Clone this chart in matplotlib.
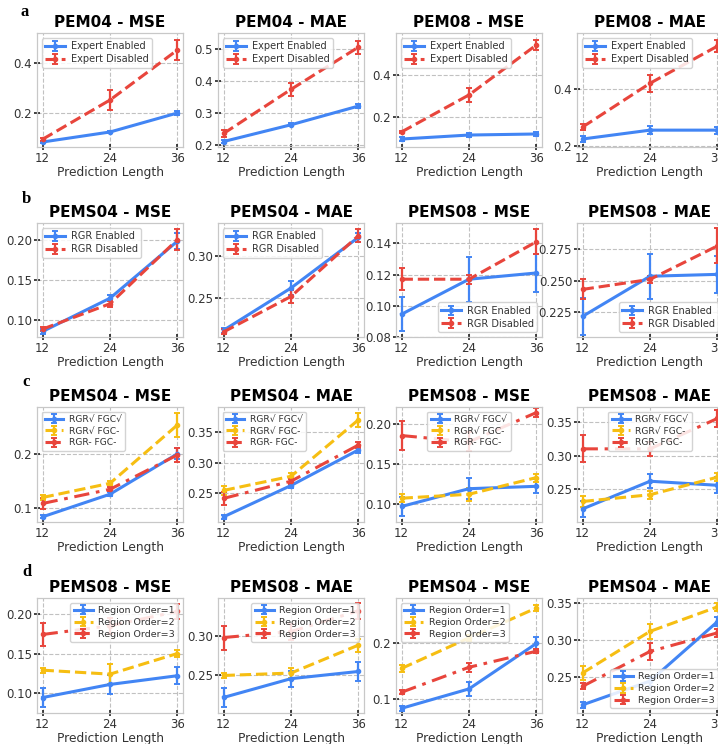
import matplotlib
matplotlib.use("Agg")
import matplotlib.pyplot as plt

# ---------------- data ----------------
pred_len = [12, 24, 36]

# Row a
a_titles = ['PEM04 - MSE', 'PEM04 - MAE', 'PEM08 - MSE', 'PEM08 - MAE']
a_labels = ['Expert Enabled', 'Expert Disabled']
a_enabled = [[0.084, 0.124, 0.200], [0.212, 0.264, 0.322], [0.095, 0.114, 0.119], [0.225, 0.256, 0.256]]
a_enabled_err = [[0.004, 0.004, 0.008], [0.004, 0.004, 0.005], [0.008, 0.010, 0.008], [0.010, 0.015, 0.012]]
a_disabled = [[0.095, 0.252, 0.452], [0.237, 0.374, 0.505], [0.129, 0.305, 0.543], [0.267, 0.420, 0.550]]
a_disabled_err = [[0.005, 0.040, 0.040], [0.010, 0.020, 0.020], [0.005, 0.035, 0.025], [0.010, 0.030, 0.020]]
a_yticks = [[0.2, 0.4], [0.2, 0.3, 0.4, 0.5], [0.2, 0.4], [0.2, 0.4]]
a_yticklabels = [['0.2', '0.4'], ['0.2', '0.3', '0.4', '0.5'], ['0.2', '0.4'], ['0.2', '0.4']]

# Row b
b_titles = ['PEMS04 - MSE', 'PEMS04 - MAE', 'PEMS08 - MSE', 'PEMS08 - MAE']
b_labels = ['RGR Enabled', 'RGR Disabled']
b_enabled = [[0.085, 0.127, 0.199], [0.212, 0.262, 0.322], [0.0946, 0.117, 0.121], [0.2215, 0.2535, 0.255]]
b_enabled_err = [[0.003, 0.004, 0.010], [0.003, 0.008, 0.005], [0.011, 0.0145, 0.012], [0.0147, 0.018, 0.015]]
b_disabled = [[0.088, 0.120, 0.201], [0.210, 0.252, 0.324], [0.117, 0.117, 0.141], [0.243, 0.251, 0.2777]]
b_disabled_err = [[0.003, 0.004, 0.013], [0.003, 0.008, 0.008], [0.007, 0.003, 0.008], [0.008, 0.003, 0.014]]
b_yticks = [[0.10, 0.15, 0.20], [0.25, 0.30], [0.08, 0.10, 0.12, 0.14], [0.225, 0.250, 0.275]]
b_yticklabels = [['0.10', '0.15', '0.20'], ['0.25', '0.30'], ['0.08', '0.10', '0.12', '0.14'],
                 ['0.225', '0.250', '0.275']]

# Row c
c_titles = ['PEMS04 - MSE', 'PEMS04 - MAE', 'PEMS08 - MSE', 'PEMS08 - MAE']
c_labels = ['RGR√ FGC√', 'RGR√ FGC-', 'RGR- FGC-']
c_full = [[0.0845, 0.126, 0.200], [0.212, 0.263, 0.321], [0.0966, 0.119, 0.122], [0.221, 0.262, 0.256]]
c_full_err = [[0.003, 0.004, 0.010], [0.003, 0.004, 0.005], [0.012, 0.013, 0.009], [0.012, 0.010, 0.012]]
c_nofgc = [[0.120, 0.146, 0.253], [0.255, 0.278, 0.370], [0.107, 0.112, 0.133], [0.232, 0.242, 0.268]]
c_nofgc_err = [[0.005, 0.004, 0.022], [0.008, 0.005, 0.012], [0.005, 0.008, 0.005], [0.008, 0.006, 0.006]]
c_none = [[0.109, 0.135, 0.198], [0.242, 0.270, 0.329], [0.186, 0.178, 0.215], [0.310, 0.310, 0.355]]
c_none_err = [[0.010, 0.004, 0.012], [0.010, 0.004, 0.005], [0.018, 0.012, 0.006], [0.020, 0.010, 0.012]]
c_yticks = [[0.1, 0.2], [0.25, 0.30, 0.35], [0.10, 0.15, 0.20], [0.25, 0.30, 0.35]]
c_yticklabels = [['0.1', '0.2'], ['0.25', '0.30', '0.35'], ['0.10', '0.15', '0.20'], ['0.25', '0.30', '0.35']]

# Row d
d_titles = ['PEMS08 - MSE', 'PEMS08 - MAE', 'PEMS04 - MSE', 'PEMS04 - MAE']
d_labels = ['Region Order=1', 'Region Order=2', 'Region Order=3']
d_order1 = [[0.0945, 0.111, 0.122], [0.2225, 0.246, 0.255], [0.083, 0.118, 0.200], [0.213, 0.245, 0.325]]
d_order1_err = [[0.012, 0.012, 0.011], [0.012, 0.010, 0.012], [0.004, 0.012, 0.012], [0.004, 0.006, 0.006]]
d_order2 = [[0.129, 0.124, 0.150], [0.250, 0.253, 0.288], [0.155, 0.210, 0.264], [0.256, 0.312, 0.345]]
d_order2_err = [[0.003, 0.013, 0.004], [0.003, 0.006, 0.008], [0.007, 0.006, 0.006], [0.010, 0.010, 0.005]]
d_order3 = [[0.174, 0.185, 0.203], [0.2975, 0.305, 0.331], [0.112, 0.157, 0.186], [0.238, 0.285, 0.310]]
d_order3_err = [[0.015, 0.010, 0.010], [0.015, 0.010, 0.010], [0.004, 0.008, 0.004], [0.004, 0.012, 0.005]]
d_yticks = [[0.10, 0.15, 0.20], [0.25, 0.30], [0.1, 0.2], [0.25, 0.30, 0.35]]
d_yticklabels = [['0.10', '0.15', '0.20'], ['0.25', '0.30'], ['0.1', '0.2'], ['0.25', '0.30', '0.35']]

panel_letters = ['a', 'b', 'c', 'd']

# ---------------- style / layout ----------------
BLUE = '#4285F4'
RED = '#E8453C'
YELLOW = '#F6BE12'

W, H = 718, 744
fig = plt.figure(figsize=(W / 100, H / 100), dpi=100)
fig.patch.set_facecolor('white')

col_left = [37, 218, 396, 577]
ax_w = 146
row_top = [33, 223, 407, 598]
ax_h = [114, 114, 115, 115]

ylims = [
    [(0.064, 0.52), (0.195, 0.549), (0.057, 0.60), (0.197, 0.596)],
    [(0.078, 0.222), (0.204, 0.339), (0.080, 0.153), (0.205, 0.296)],
    [(0.075, 0.286), (0.2035, 0.391), (0.077, 0.222), (0.2016, 0.372)],
    [(0.075, 0.220), (0.203, 0.347), (0.0745, 0.282), (0.202, 0.357)],
]
legend_locs = [
    ['upper left'] * 4,
    ['upper left', 'upper left', 'lower right', 'lower right'],
    ['upper left', 'upper left', 'upper center', 'upper center'],
    ['upper right', 'upper right', 'upper left', 'lower right'],
]

DASHDOT = (0, (5, 2.2, 1.2, 2.2))
rows = [
    dict(titles=a_titles, yt=a_yticks, ytl=a_yticklabels,
         series=[(a_enabled, a_enabled_err, a_labels[0], BLUE, '-'),
                 (a_disabled, a_disabled_err, a_labels[1], RED, '--')], lfs=7),
    dict(titles=b_titles, yt=b_yticks, ytl=b_yticklabels,
         series=[(b_enabled, b_enabled_err, b_labels[0], BLUE, '-'),
                 (b_disabled, b_disabled_err, b_labels[1], RED, '--')], lfs=7),
    dict(titles=c_titles, yt=c_yticks, ytl=c_yticklabels,
         series=[(c_full, c_full_err, c_labels[0], BLUE, '-'),
                 (c_nofgc, c_nofgc_err, c_labels[1], YELLOW, '--'),
                 (c_none, c_none_err, c_labels[2], RED, DASHDOT)], lfs=6.6),
    dict(titles=d_titles, yt=d_yticks, ytl=d_yticklabels,
         series=[(d_order1, d_order1_err, d_labels[0], BLUE, '-'),
                 (d_order2, d_order2_err, d_labels[1], YELLOW, '--'),
                 (d_order3, d_order3_err, d_labels[2], RED, DASHDOT)], lfs=6.8),
]

for r, row in enumerate(rows):
    for c in range(4):
        rect = [col_left[c] / W, 1 - (row_top[r] + ax_h[r]) / H, ax_w / W, ax_h[r] / H]
        ax = fig.add_axes(rect)
        for vals, errs, lab, colr, ls in row['series']:
            ax.errorbar(pred_len, vals[c], yerr=errs[c], label=lab, color=colr,
                        linestyle=ls, linewidth=2.2, marker='o', markersize=3,
                        capsize=2, elinewidth=1.6, capthick=1.4)
        ax.set_xlim(11, 37)
        ax.set_ylim(*ylims[r][c])
        ax.set_xticks(pred_len)
        ax.set_xticklabels([str(v) for v in pred_len])
        ax.set_yticks(row['yt'][c])
        ax.set_yticklabels(row['ytl'][c])
        ax.grid(True, linestyle='--', color='#bbbbbb', linewidth=0.8, alpha=0.9)
        ax.set_axisbelow(True)
        for sp in ax.spines.values():
            sp.set_color('#c8c8c8')
            sp.set_linewidth(0.9)
        ax.tick_params(axis='both', direction='inout', length=5, width=1.2, color='#222222',
                       labelsize=8.5, labelcolor='#333333', pad=1)
        ax.set_title(row['titles'][c], fontsize=11, fontweight='bold', pad=4)
        ax.set_xlabel('Prediction Length', fontsize=8.8, color='#333333', labelpad=1)
        leg = ax.legend(loc=legend_locs[r][c], fontsize=row['lfs'], frameon=True,
                        framealpha=0.85, edgecolor='#cccccc', handlelength=2.0,
                        borderpad=0.35, labelspacing=0.3, handletextpad=0.6)
        for t in leg.get_texts():
            t.set_color('#333333')

letter_pos = [(25, 12), (26, 199), (26, 382), (27, 572)]
for lt, (px, py) in zip(panel_letters, letter_pos):
    fig.text(px / W, 1 - py / H, lt, fontsize=12, fontweight='bold',
             family='Liberation Serif', ha='center', va='center')

fig.savefig('out.png', dpi=100, facecolor='white')
